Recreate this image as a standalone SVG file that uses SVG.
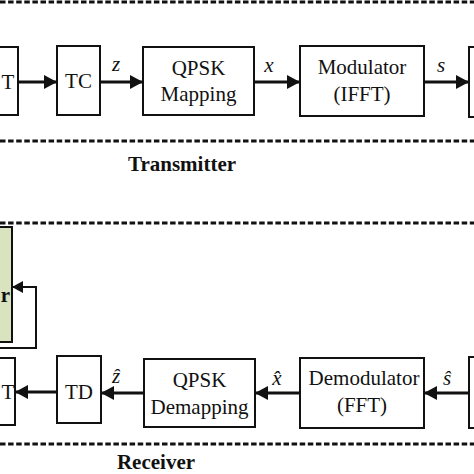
<svg xmlns="http://www.w3.org/2000/svg" width="474" height="474" viewBox="0 0 474 474">
<style>
.box{fill:#fff;stroke:#111;stroke-width:2}
.green{fill:#d9e3bf;stroke:#111;stroke-width:2}
.t{font-family:"Liberation Serif",serif;font-size:21px;fill:#111;text-anchor:middle}
.it{font-family:"Liberation Serif",serif;font-size:21px;font-style:italic;fill:#111;text-anchor:middle}
.b{font-family:"Liberation Serif",serif;font-size:21px;font-weight:bold;fill:#111;text-anchor:middle}
.dash{stroke:#111;stroke-width:2.8;stroke-dasharray:5.5 2.6;fill:none}
.arr{stroke:#111;stroke-width:3;fill:none;marker-end:url(#ah)}
.fb{stroke:#111;stroke-width:2;fill:none}
</style>
<defs>
<marker id="ah" markerUnits="userSpaceOnUse" markerWidth="14" markerHeight="14" refX="13" refY="7" orient="auto">
<path d="M0,0 L13,7 L0,14 z" fill="#111"/>
</marker>
<marker id="ah2" markerUnits="userSpaceOnUse" markerWidth="12" markerHeight="12" refX="11" refY="6" orient="auto">
<path d="M0,0 L11,6 L0,12 z" fill="#111"/>
</marker>
</defs>
<rect width="474" height="474" fill="#fff"/>
<g id="frames">
<line class="dash" x1="0" y1="2" x2="474" y2="2"/>
<line class="dash" x1="0" y1="141" x2="474" y2="141"/>
<line class="dash" x1="0" y1="223" x2="474" y2="223"/>
<line class="dash" x1="0" y1="444" x2="474" y2="444"/>
<text class="b" x="182" y="171">Transmitter</text>
<text class="b" x="156" y="469">Receiver</text>
</g>
<g id="tx-left">
<rect class="box" x="-20" y="47" width="38" height="68"/>
<text class="t" x="8" y="89">T</text>
</g>
<g id="tc">
<rect class="box" x="57" y="46" width="43" height="69"/>
<text class="t" x="78.5" y="88">TC</text>
</g>
<g id="qpsk-map">
<rect class="box" x="143" y="47" width="111" height="68"/>
<text class="t" x="198.5" y="75">QPSK</text>
<text class="t" x="198.5" y="101">Mapping</text>
</g>
<g id="mod">
<rect class="box" x="300" y="46" width="124" height="70"/>
<text class="t" x="362" y="74">Modulator</text>
<text class="t" x="362" y="101">(IFFT)</text>
</g>
<g id="tx-right">
<rect class="box" x="469" y="47" width="30" height="70"/>
</g>
<g id="green">
<rect class="green" x="-30" y="227" width="42" height="115"/>
<text class="b" x="5.5" y="302">r</text>
</g>
<g id="rx-left">
<rect class="box" x="-20" y="358" width="35" height="67"/>
<text class="t" x="8" y="399">T</text>
</g>
<g id="td">
<rect class="box" x="57" y="356" width="44" height="67"/>
<text class="t" x="79" y="399">TD</text>
</g>
<g id="qpsk-demap">
<rect class="box" x="144" y="359" width="111" height="68"/>
<text class="t" x="199.5" y="387">QPSK</text>
<text class="t" x="199.5" y="414">Demapping</text>
</g>
<g id="demod">
<rect class="box" x="300" y="358" width="124" height="70"/>
<text class="t" x="364" y="385">Demodulator</text>
<text class="t" x="362" y="412">(FFT)</text>
</g>
<g id="rx-right">
<rect class="box" x="469" y="357" width="30" height="71"/>
</g>
<g id="connectors">
<line class="arr" x1="18" y1="82" x2="57" y2="82"/>
<line class="arr" x1="100" y1="82" x2="143" y2="82"/>
<line class="arr" x1="254" y1="82" x2="300" y2="82"/>
<line class="arr" x1="424" y1="82" x2="469" y2="82"/>
<line class="arr" x1="57" y1="392" x2="15" y2="392"/>
<line class="arr" x1="144" y1="393" x2="101" y2="393"/>
<line class="arr" x1="300" y1="393" x2="255" y2="393"/>
<line class="arr" x1="469" y1="393" x2="424" y2="393"/>
<polyline class="fb" points="0,348 36,348 36,287 12,287" marker-end="url(#ah2)"/>
<text class="it" x="116" y="71">z</text>
<text class="it" x="269" y="72">x</text>
<text class="it" x="441" y="72">s</text>
<text class="it" x="116" y="383">ẑ</text>
<text class="it" x="277" y="385">x̂</text>
<text class="it" x="447" y="385">ŝ</text>
</g>
</svg>
